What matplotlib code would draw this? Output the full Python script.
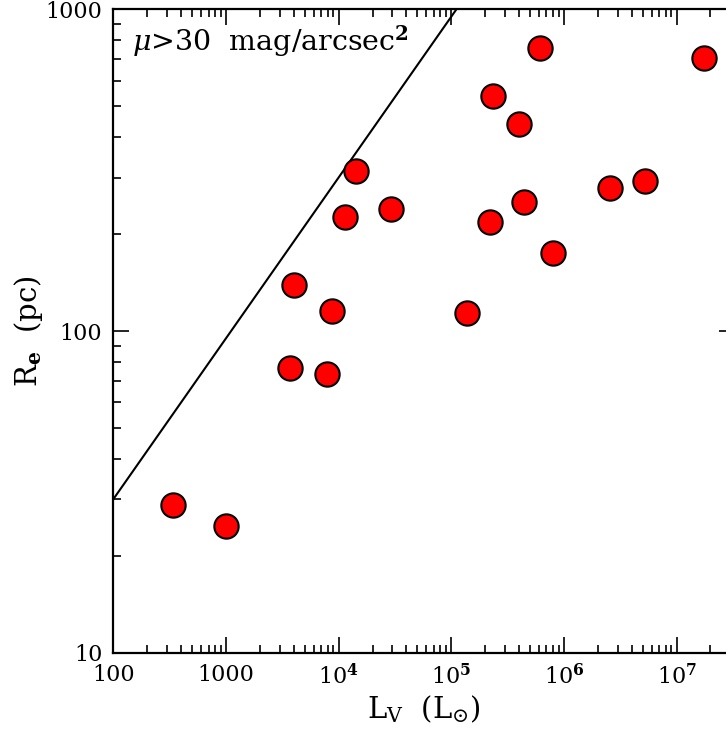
import matplotlib
matplotlib.use('Agg')
import matplotlib.pyplot as plt
from matplotlib.ticker import FixedLocator, LogLocator, NullFormatter, FixedFormatter
import numpy as np

plt.rcParams['font.family'] = ['DejaVu Serif']
plt.rcParams['mathtext.fontset'] = 'dejavuserif'

# luminosity (L_sun) and half-light radius (pc) of the satellites
lum_v = [337, 1010, 3730, 4050, 7950, 8810, 11490, 14210, 29080,
         139000, 221600, 235500, 395300, 444000, 607300, 803500,
         2.59e6, 5.20e6, 1.75e7]
r_e = [28.8, 24.8, 76.5, 138.8, 73.5, 115, 226, 314, 240,
       114, 218, 539, 440, 252, 757, 175,
       279, 292, 707]

# surface brightness limit: R_e = 30 pc at L = 100 L_sun, R ~ L^0.5
sb_lum = [100, 1e5, 1e8]
sb_r0 = 30.0

x_ticks = [100, 1000, 1e4, 1e5, 1e6, 1e7]
x_labels = ['100', '1000', r'10$^{\mathbf{4}}$', r'10$^{\mathbf{5}}$',
            r'10$^{\mathbf{6}}$', r'10$^{\mathbf{7}}$']
y_ticks = [10, 100, 1000]
y_labels = ['10', '100', '1000']

fig = plt.figure(figsize=(7.26, 7.39), dpi=100)
# right edge sits just past the canvas
ax = fig.add_axes([113.3 / 726, 1 - 652.7 / 739, (735 - 113.3) / 726, (652.7 - 9.3) / 739])

sb_lum = np.array(sb_lum)
ax.plot(sb_lum, sb_r0 * (sb_lum / 100) ** 0.5, color='black', lw=1.5, zorder=2)
ax.plot(lum_v, r_e, 'o', ms=17.5, mfc='red', mec='black', mew=1.5, zorder=3)

ax.set_xscale('log')
ax.set_yscale('log')
ax.set_xlim(100, 3.3e7)
ax.set_ylim(10, 1000)

ax.xaxis.set_major_locator(FixedLocator(x_ticks))
ax.xaxis.set_major_formatter(FixedFormatter(x_labels))
ax.yaxis.set_major_locator(FixedLocator(y_ticks))
ax.yaxis.set_major_formatter(FixedFormatter(y_labels))
for axis in (ax.xaxis, ax.yaxis):
    axis.set_minor_locator(LogLocator(base=10, subs=np.arange(2, 10), numticks=20))
    axis.set_minor_formatter(NullFormatter())

ax.tick_params(which='both', direction='in', top=True, right=True, width=1.2, labelsize=16)
ax.tick_params(which='major', length=11.5, pad=8)
ax.tick_params(which='minor', length=6)
for sp in ax.spines.values():
    sp.set_linewidth(1.6)

ax.set_xlabel(r'L$_{\mathrm{V}}$  (L$_{\odot}$)', fontsize=21, labelpad=3)
ax.set_ylabel(r'R$_{\mathbf{e}}$  (pc)', fontsize=21, labelpad=0)

ax.text(0.03, 0.978, r'$\mu$>30  mag/arcsec$^{\mathbf{2}}$', transform=ax.transAxes,
        fontsize=20.5, ha='left', va='top')

fig.savefig('out.png', dpi=100)
